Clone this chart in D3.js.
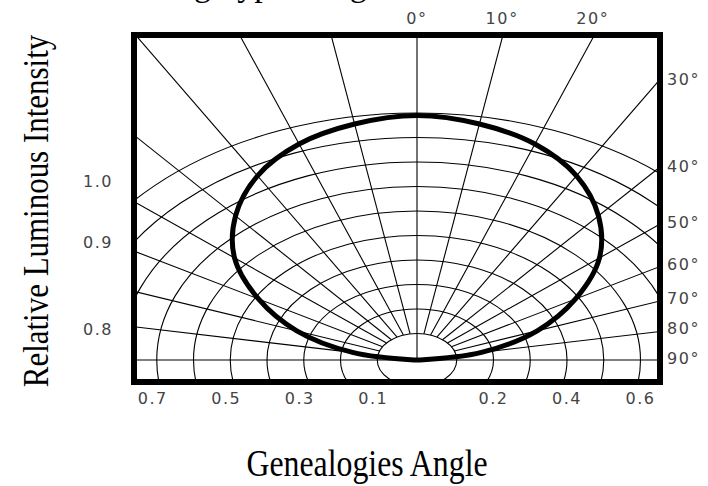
<!DOCTYPE html>
<html>
<head>
<meta charset="utf-8">
<script src="https://cdn.jsdelivr.net/npm/d3@7/dist/d3.min.js"></script>
<style>
  html, body { margin: 0; padding: 0; background: #fff; }
  svg { display: block; }
</style>
</head>
<body>
<svg id="chart" width="708" height="486"></svg>
<script>
// ---- data ----------------------------------------------------------------
// relative intensity rings of the polar grid
const ringValues = [0.1, 0.2, 0.3, 0.4, 0.5, 0.6, 0.7, 0.8, 0.9, 1.0];
// spoke angles (degrees off the optical axis)
const spokeAngles = [-80, -70, -60, -50, -40, -30, -20, -10, 10, 20, 30, 40, 50, 60, 70, 80];
// measured radiation pattern: angle (deg) and relative luminous intensity
const patternAngles    = [-90, -80, -70, -60, -50, -40, -30, -20, -10, 0, 10, 20, 30, 40, 50, 60, 70, 80, 90];
const patternIntensity = [0.00, 0.17, 0.34, 0.49, 0.64, 0.76, 0.86, 0.93, 0.97, 0.99, 0.97, 0.93, 0.86, 0.76, 0.64, 0.49, 0.34, 0.17, 0.00];
// angle tick labels
const topAngleTicks  = [0, 10, 20];
const sideAngleTicks = [30, 40, 50, 60, 70, 80, 90];
// ring tick labels along the base line
const leftRingTicks  = [0.7, 0.5, 0.3, 0.1];
const rightRingTicks = [0.2, 0.4, 0.6];
// intensity labels on the left
const intensityTicks = ["1.0", "0.9", "0.8"];

// ---- layout --------------------------------------------------------------
const svg = d3.select("#chart");
const frame = { x0: 134, y0: 35, x1: 660, y1: 382 };
const cx = 417, cy = 360;   // pole of the diagram
const kx = 1.5;             // horizontal stretch of the diagram
const r = d3.scaleLinear().domain([0, 1]).range([2, 247]);
const rad = d => d * Math.PI / 180;
const pt = (deg, v) => [cx + kx * r(v) * Math.sin(rad(deg)), cy - r(v) * Math.cos(rad(deg))];

const labelFont = "'DejaVu Sans', sans-serif";

svg.append("defs").append("clipPath").attr("id", "plotClip")
  .append("rect")
  .attr("x", frame.x0).attr("y", frame.y0)
  .attr("width", frame.x1 - frame.x0).attr("height", frame.y1 - frame.y0);

const grid = svg.append("g").attr("clip-path", "url(#plotClip)")
  .attr("fill", "none").attr("stroke", "#000").attr("stroke-width", 1.1);

// rings
grid.selectAll("ellipse").data(ringValues).join("ellipse")
  .attr("cx", cx).attr("cy", cy)
  .attr("rx", d => kx * r(d)).attr("ry", d => r(d));

// spokes, starting at the innermost ring
grid.selectAll("line.spoke").data(spokeAngles).join("line")
  .attr("class", "spoke")
  .attr("x1", d => pt(d, ringValues[0])[0]).attr("y1", d => pt(d, ringValues[0])[1])
  .attr("x2", d => pt(d, 3)[0]).attr("y2", d => pt(d, 3)[1]);

// optical axis and base line
grid.append("line").attr("x1", cx).attr("y1", cy).attr("x2", cx).attr("y2", frame.y0);
grid.append("line").attr("x1", frame.x0).attr("y1", cy).attr("x2", frame.x1).attr("y2", cy);

// radiation pattern: a closed loop; the two 90° ends meet at the pole
const pattern = patternAngles.map((a, i) => pt(a, patternIntensity[i]));
const loop = pattern.filter((p, i) => i === 0 ||
  Math.hypot(p[0] - pattern[0][0], p[1] - pattern[0][1]) > 0.5);
svg.append("path")
  .datum(loop)
  .attr("d", d3.line().curve(d3.curveCatmullRomClosed))
  .attr("fill", "none").attr("stroke", "#000").attr("stroke-width", 5)
  .attr("stroke-linejoin", "round");

// frame
svg.append("rect")
  .attr("x", frame.x0).attr("y", frame.y0)
  .attr("width", frame.x1 - frame.x0).attr("height", frame.y1 - frame.y0)
  .attr("fill", "none").attr("stroke", "#000").attr("stroke-width", 6);

// ---- labels --------------------------------------------------------------
const lab = svg.append("g")
  .attr("font-family", labelFont).attr("font-size", 16)
  .attr("fill", "#444").attr("letter-spacing", 1.6);

const innerTop = frame.y0 + 3, innerRight = frame.x1 - 3;

lab.selectAll("text.top").data(topAngleTicks).join("text")
  .attr("class", "top")
  .attr("x", d => cx + kx * (cy - innerTop) * Math.tan(rad(d)))
  .attr("y", 24)
  .attr("text-anchor", "middle")
  .text(d => d + "°");

lab.selectAll("text.side").data(sideAngleTicks).join("text")
  .attr("class", "side")
  .attr("x", frame.x1 + 7)
  .attr("y", d => d === 90 ? cy - 2 : cy - (innerRight - cx) / kx / Math.tan(rad(d)) - 3)
  .attr("dy", "0.35em")
  .text(d => d + "°");

lab.selectAll("text.ringL").data(leftRingTicks).join("text")
  .attr("class", "ringL")
  .attr("x", d => cx - kx * r(d) - 4)
  .attr("y", 404)
  .attr("text-anchor", "middle")
  .text(d => d.toFixed(1));

lab.selectAll("text.ringR").data(rightRingTicks).join("text")
  .attr("class", "ringR")
  .attr("x", d => cx + kx * r(d))
  .attr("y", 404)
  .attr("text-anchor", "middle")
  .text(d => d.toFixed(1));

const intensityLabelY = [181, 242, 329];
lab.selectAll("text.int").data(intensityTicks).join("text")
  .attr("class", "int")
  .attr("x", 98)
  .attr("y", (d, i) => intensityLabelY[i])
  .attr("dy", "0.35em")
  .attr("text-anchor", "middle")
  .text(d => d);

// ---- titles --------------------------------------------------------------
const serif = "'Liberation Serif', 'Times New Roman', serif";

svg.append("text")
  .attr("x", 92).attr("y", -4)
  .attr("font-family", serif).attr("font-size", 34)
  .attr("fill", "#000")
  .text("Emitting Type Range");

svg.append("g").attr("transform", "translate(367,476) scale(0.86,1)")
  .append("text")
  .attr("text-anchor", "middle")
  .attr("font-family", serif).attr("font-size", 37)
  .attr("fill", "#000")
  .text("Genealogies Angle");

svg.append("g").attr("transform", "translate(48,211) rotate(-90) scale(0.86,1)")
  .append("text")
  .attr("text-anchor", "middle")
  .attr("font-family", serif).attr("font-size", 36)
  .attr("fill", "#000")
  .text("Relative Luminous Intensity");
</script>
</body>
</html>
